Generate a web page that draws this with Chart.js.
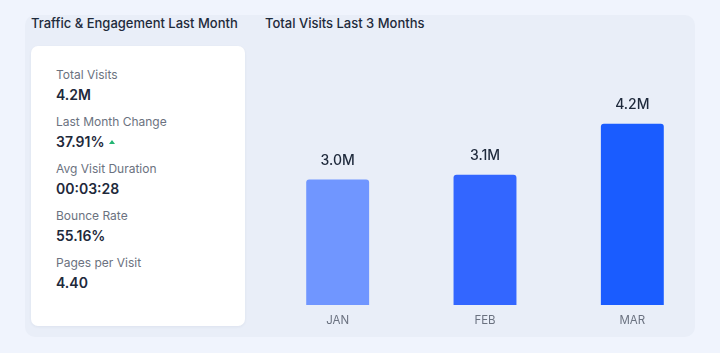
<!DOCTYPE html>
<html>
<head>
<meta charset="utf-8">
<script src="https://cdn.jsdelivr.net/npm/chart.js@4.4.0/dist/chart.umd.min.js"></script>
<style>
    html, body { margin: 0; padding: 0; }
    body {
        width: 720px; height: 353px; overflow: hidden; position: relative;
        background: #f0f4fd; font-family: "Inter", "Open Sans", sans-serif;
    }
    #panel {
        position: absolute; left: 25px; top: 15px; width: 670px; height: 322px;
        background: #e9eef8; border-radius: 10px;
    }
    .title {
        position: absolute; top: 15px; font-size: 13px; font-weight: 500; color: #1e2a3b;
        white-space: nowrap;
    }
    #card {
        position: absolute; left: 31px; top: 46px; width: 214px; height: 280px;
        background: #fff; border-radius: 7px; box-shadow: 0 1px 3px rgba(30,50,90,0.06);
    }
    .stat { position: absolute; left: 25px; }
    .lbl { font-size: 12px; color: #6b7280; line-height: 14px; }
    .val { font-size: 14px; font-weight: 600; color: #1e293b; line-height: 18px; margin-top: 4px; }
    .up {
        display: inline-block; width: 0; height: 0; margin-left: 5px; vertical-align: 3px;
        border-left: 3px solid transparent; border-right: 3px solid transparent; border-bottom: 4px solid #22b573;
    }
    #chartBox { position: absolute; left: 264px; top: 40px; width: 442px; height: 300px; }
</style>
</head>
<body>
<div id="panel"></div>
<div class="title" style="left:31px">Traffic &amp; Engagement Last Month</div>
<div class="title" style="left:265px">Total Visits Last 3 Months</div>
<div id="card"></div>
<div id="chartBox"><canvas id="visits"></canvas></div>
<script>
var months = ["JAN", "FEB", "MAR"]
var visits = [3.0, 3.1, 4.2]
var visitLabels = ["3.0M", "3.1M", "4.2M"]
var barColors = ["#7096ff", "#3366ff", "#1a5cff"]

var statNames = ["Total Visits", "Last Month Change", "Avg Visit Duration", "Bounce Rate", "Pages per Visit"]
var statValues = ["4.2M", "37.91%", "00:03:28", "55.16%", "4.40"]

// stat list in the white card
var card = document.getElementById("card")
for (var i = 0; i < statNames.length; i++) {
    var el = document.createElement("div")
    el.className = "stat"
    el.style.top = (22 + i * 47) + "px"
    var arrow = i == 1 ? '<span class="up"></span>' : ''
    el.innerHTML = '<div class="lbl">' + statNames[i] + '</div><div class="val">' + statValues[i] + arrow + '</div>'
    card.appendChild(el)
}

var topLabels = {
    id: "topLabels",
    afterDatasetsDraw: function(chart) {
        var ctx = chart.ctx
        var meta = chart.getDatasetMeta(0)
        ctx.save()
        ctx.font = "500 14px Inter, sans-serif"
        ctx.fillStyle = "#1e293b"
        ctx.textAlign = "center"
        ctx.textBaseline = "middle"
        meta.data.forEach(function(bar, i) {
            ctx.fillText(visitLabels[i], bar.x, bar.y - 19)
        })
        ctx.restore()
    }
}

new Chart(document.getElementById("visits"), {
    type: "bar",
    data: {
        labels: months,
        datasets: [{
            data: visits,
            backgroundColor: barColors,
            borderRadius: 3,
            borderSkipped: false,
            categoryPercentage: 1,
            barPercentage: 0.427
        }]
    },
    options: {
        responsive: true,
        maintainAspectRatio: false,
        animation: false,
        layout: { padding: { top: 0, bottom: 5, left: 0, right: 0 } },
        plugins: {
            legend: { display: false },
            tooltip: { enabled: false }
        },
        scales: {
            x: {
                grid: { display: false },
                border: { display: false },
                ticks: { color: "#6b7280", padding: 1, font: { size: 11.5, family: "Inter" } },
                afterFit: function(scale) { scale.height = 30 }
            },
            y: {
                display: false,
                min: 0.3,
                max: 6
            }
        }
    },
    plugins: [topLabels]
})
</script>
</body>
</html>
